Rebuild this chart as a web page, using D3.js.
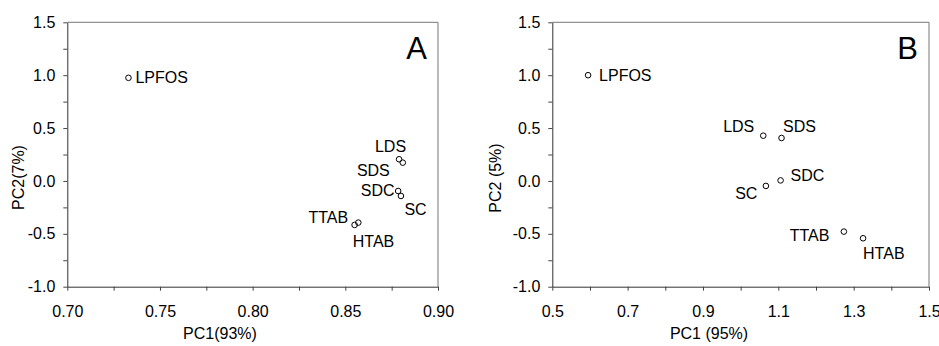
<!DOCTYPE html>
<html>
<head>
<meta charset="utf-8">
<script src="https://cdn.jsdelivr.net/npm/d3@7"></script>
<style>
    body { margin: 0; background: #fff; }
    text { font-family: "Liberation Sans", Arial, sans-serif; fill: #000; }
</style>
</head>
<body>
<script>
// PCA scores
const NAMES = ["LPFOS", "LDS", "SDS", "SDC", "SC", "TTAB", "HTAB"];

const PC1_A = [0.733, 0.879, 0.881, 0.8785, 0.880, 0.855, 0.857];
const PC2_A = [0.975, 0.205, 0.173, -0.095, -0.142, -0.416, -0.394];

const PC1_B = [0.595, 1.060, 1.1085, 1.106, 1.067, 1.274, 1.325];
const PC2_B = [1.0, 0.428, 0.406, 0.005, -0.047, -0.479, -0.542];

const X_TICKS_A = [0.70, 0.75, 0.80, 0.85, 0.90];
const X_MINOR_A = [0.725, 0.775, 0.825, 0.875];
const X_TICKS_B = [0.5, 0.7, 0.9, 1.1, 1.3, 1.5];
const X_MINOR_B = [0.6, 0.8, 1.0, 1.2, 1.4];
const Y_TICKS = [-1.0, -0.5, 0.0, 0.5, 1.0, 1.5];
const Y_MINOR = [-0.75, -0.25, 0.25, 0.75, 1.25];

const X_TITLE_A = "PC1(93%)";
const Y_TITLE_A = "PC2(7%)";
const X_TITLE_B = "PC1 (95%)";
const Y_TITLE_B = "PC2 (5%)";

const FONT_SIZE = 16;
const TICK_SIZE = 4;
const POINT_RADIUS = 2.8;

// label offsets from each point: [dx, dy, anchor]
const LABELS_A = {
    LPFOS: [7, 5.5, "start"],
    LDS: [7, -7.5, "end"],
    SDS: [-13, 13, "end"],
    SDC: [-3.5, 5, "end"],
    SC: [3.5, 19, "start"],
    TTAB: [-6.5, -2, "end"],
    HTAB: [-5.5, 24, "start"]
};

const LABELS_B = {
    LPFOS: [11, 6, "start"],
    LDS: [-9, -4, "end"],
    SDS: [1.5, -6.5, "start"],
    SDC: [10, 1, "start"],
    SC: [-8.5, 13.5, "end"],
    TTAB: [-14.5, 9.5, "end"],
    HTAB: [0, 20.5, "start"]
};

const svg = d3.select("body").append("svg")
    .attr("width", 939)
    .attr("height", 346);

const fmt1 = d => d.toFixed(1);
const fmt2 = d => d.toFixed(2);

function drawPanel(cfg) {
    const xScale = d3.scaleLinear().domain(cfg.xDomain).range([cfg.left, cfg.right]);
    const yScale = d3.scaleLinear().domain([-1.0, 1.5]).range([cfg.bottom, cfg.top]);

    const g = svg.append("g");

    // top and right frame lines (lighter)
    g.append("line")
        .attr("x1", cfg.left).attr("x2", cfg.right)
        .attr("y1", cfg.top).attr("y2", cfg.top)
        .attr("stroke", "#777").attr("stroke-width", 1);
    g.append("line")
        .attr("x1", cfg.right).attr("x2", cfg.right)
        .attr("y1", cfg.top).attr("y2", cfg.bottom)
        .attr("stroke", "#777").attr("stroke-width", 1);

    // minor ticks
    g.append("g")
        .attr("transform", `translate(0,${cfg.bottom})`)
        .call(d3.axisBottom(xScale).tickValues(cfg.xMinor).tickSize(TICK_SIZE).tickFormat(""))
        .call(a => a.select(".domain").remove());
    g.append("g")
        .attr("transform", `translate(${cfg.left},0)`)
        .call(d3.axisLeft(yScale).tickValues(Y_MINOR).tickSize(TICK_SIZE).tickFormat(""))
        .call(a => a.select(".domain").remove());

    // major ticks
    const xAxis = g.append("g")
        .attr("transform", `translate(0,${cfg.bottom})`)
        .call(d3.axisBottom(xScale).tickValues(cfg.xTicks).tickSize(TICK_SIZE)
            .tickSizeOuter(0).tickPadding(15).tickFormat(cfg.xFormat));
    const yAxis = g.append("g")
        .attr("transform", `translate(${cfg.left},0)`)
        .call(d3.axisLeft(yScale).tickValues(Y_TICKS).tickSize(TICK_SIZE)
            .tickSizeOuter(0).tickPadding(8).tickFormat(fmt1));

    [xAxis, yAxis].forEach(a => {
        a.attr("font-family", null).attr("font-size", FONT_SIZE);
        a.select(".domain").attr("stroke", "#333");
    });
    g.selectAll(".tick line").attr("stroke", "#444");

    // axis titles
    g.append("text")
        .attr("x", cfg.xTitleX)
        .attr("y", 339)
        .attr("text-anchor", "middle")
        .style("font-size", FONT_SIZE + "px")
        .text(cfg.xTitle);
    g.append("text")
        .attr("transform", `translate(${cfg.yTitleX},${cfg.yTitleY}) rotate(-90)`)
        .attr("text-anchor", "middle")
        .style("font-size", FONT_SIZE + "px")
        .text(cfg.yTitle);

    // panel letter
    g.append("text")
        .attr("x", cfg.right - 11)
        .attr("y", 58.5)
        .attr("text-anchor", "end")
        .style("font-size", "31px")
        .text(cfg.letter);

    const rows = NAMES.map((name, i) => ({ name, pc1: cfg.pc1[i], pc2: cfg.pc2[i] }));

    g.selectAll("circle.pt")
        .data(rows)
        .join("circle")
        .attr("class", "pt")
        .attr("cx", d => xScale(d.pc1))
        .attr("cy", d => yScale(d.pc2))
        .attr("r", POINT_RADIUS)
        .attr("fill", "none")
        .attr("stroke", "#000")
        .attr("stroke-width", 1);

    g.selectAll("text.lbl")
        .data(rows)
        .join("text")
        .attr("class", "lbl")
        .attr("x", d => xScale(d.pc1) + cfg.labels[d.name][0])
        .attr("y", d => yScale(d.pc2) + cfg.labels[d.name][1])
        .attr("text-anchor", d => cfg.labels[d.name][2])
        .style("font-size", FONT_SIZE + "px")
        .text(d => d.name);
}

drawPanel({
    letter: "A",
    left: 67.3, right: 438, top: 22.3, bottom: 286.7,
    xDomain: [0.70, 0.90],
    xTicks: X_TICKS_A, xMinor: X_MINOR_A, xFormat: fmt2,
    pc1: PC1_A, pc2: PC2_A, labels: LABELS_A,
    xTitle: X_TITLE_A, xTitleX: 220,
    yTitle: Y_TITLE_A, yTitleX: 24, yTitleY: 177.5
});

drawPanel({
    letter: "B",
    left: 552.3, right: 929, top: 22.3, bottom: 286.7,
    xDomain: [0.5, 1.5],
    xTicks: X_TICKS_B, xMinor: X_MINOR_B, xFormat: fmt1,
    pc1: PC1_B, pc2: PC2_B, labels: LABELS_B,
    xTitle: X_TITLE_B, xTitleX: 709,
    yTitle: Y_TITLE_B, yTitleX: 501, yTitleY: 178
});
</script>
</body>
</html>
